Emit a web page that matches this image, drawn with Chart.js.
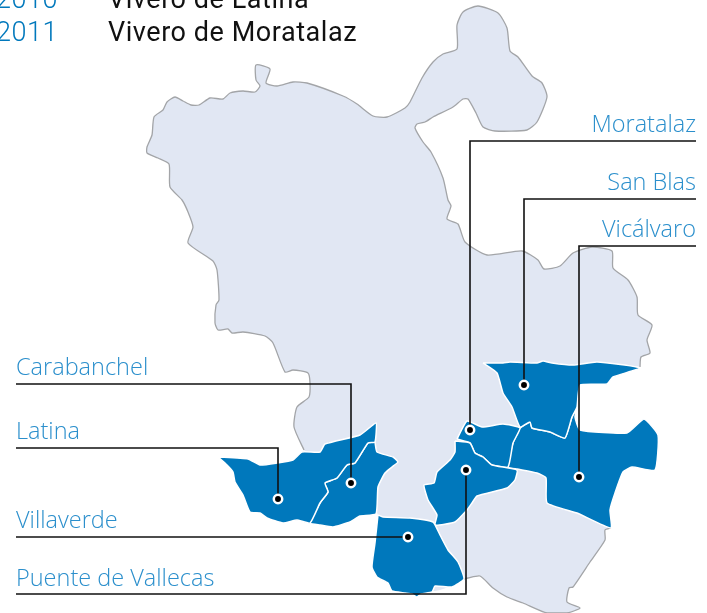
<!DOCTYPE html>
<html>
<head>
<meta charset="utf-8">
<style>
  html, body { margin: 0; padding: 0; background: #fff; overflow: hidden; }
  canvas { display: block; }
</style>
<script src="https://cdn.jsdelivr.net/npm/chart.js@4/dist/chart.umd.min.js"></script>
</head>
<body>
<canvas id="mapa" width="707" height="613"></canvas>
<script>
// Contorno del municipio (gris)
const borderNorth = [[304,450],[294,427],[297,407],[309,397],[310,383],[308,373],[293,370],[285,372],[273,343],[265,336],[243,332],[232,333],[228,329],[218,330],[215,323],[216,305],[219,300],[217,270],[213,261],[188,243],[193,227],[188,212],[182,200],[170,187],[169,164],[158,158],[147,153],[147,147],[152,135],[154,117],[163,110],[167,102],[175,97],[183,101],[191,105],[199,105],[210,98],[223,99],[230,93],[243,91],[255,92],[260,86],[256,80],[256,65],[270,69],[266,83],[277,86],[293,82],[307,83],[343,96],[357,104],[373,116],[387,117],[405,108],[410,102],[422,78],[433,62],[443,54],[457,49],[457,25],[463,12],[478,6],[498,13],[507,28],[510,51],[518,57],[532,76],[542,83],[547,97],[537,122],[527,130],[495,131],[483,127],[476,113],[468,99],[463,99],[453,107],[433,117],[425,122],[417,124],[415,128],[423,142],[431,152],[443,178],[448,200],[451,206],[447,219],[458,224],[465,242],[487,255],[522,251],[538,260],[544,269],[560,266],[573,253],[592,247],[612,251],[613,268],[628,280],[637,297],[638,315],[652,325],[647,340],[650,353],[641,357],[640,367]];
const edgeEast = [[640,368],[613,377],[607,384],[580,385],[577,407],[575,417],[580,430],[627,433],[644,419],[658,435],[655,470],[632,467],[623,472],[615,493],[610,510],[611,528]];
const borderSouth = [[611,528],[605,530],[605,540],[590,562],[573,587],[569,588],[567,602],[580,608],[567,613],[547,613],[523,603],[507,597],[493,588],[480,576],[468,578],[464,579]];
const edgeSouth = [[464,579],[440,590],[400,592],[378,560],[378,515],[370,505],[330,480]];

// Distritos en azul
const latina = [[218,457],[248,459],[260,465],[277,463],[293,460],[302,452],[320,452],[325,444],[360,435],[376,423],[375,442],[368,443],[355,463],[347,465],[337,478],[325,483],[328,492],[320,503],[310,523],[297,520],[283,523],[267,518],[260,513],[250,512],[243,495],[235,482],[233,472],[227,465]];
const carabanchel = [[375,442],[377,452],[393,457],[398,462],[392,467],[385,473],[378,487],[376,514],[360,516],[350,522],[333,527],[320,525],[310,523],[320,503],[328,492],[325,483],[337,478],[347,465],[355,463],[368,443]];
const villaverde = [[378,515],[383,517],[410,518],[433,522],[440,535],[448,550],[458,562],[464,579],[452,587],[435,586],[432,592],[421,594],[417,597],[412,594],[405,593],[392,591],[388,583],[377,577],[372,567],[375,543]];
const puenteVallecas = [[455,441],[470,443],[475,453],[483,457],[492,465],[517,470],[515,480],[507,488],[477,496],[472,503],[467,510],[455,522],[435,525],[437,515],[428,500],[424,485],[434,483],[437,472],[450,460],[455,452]];
const moratalaz = [[457,439],[467,421],[482,427],[503,424],[520,428],[513,443],[508,467],[492,465],[483,457],[475,453],[470,443]];
const sanBlas = [[483,363],[503,363],[510,362],[537,363],[543,361],[552,363],[573,365],[597,362],[640,368],[613,377],[607,384],[580,385],[577,407],[572,417],[565,438],[550,432],[532,428],[530,422],[520,427],[512,407],[503,393],[497,373]];
const vicalvaro = [[520,428],[530,422],[532,428],[550,432],[565,438],[572,417],[577,407],[575,417],[580,430],[627,433],[644,419],[658,435],[655,470],[632,467],[623,472],[615,493],[610,510],[611,528],[577,513],[547,503],[546,478],[537,473],[517,469],[508,467],[513,443]];
const districts = [latina, carabanchel, villaverde, puenteVallecas, moratalaz, sanBlas, vicalvaro];

// Lineas de los rotulos
const leaders = [
  [[16,384],[351,384],[351,483]],
  [[16,448],[278,448],[278,499]],
  [[16,537],[408,537]],
  [[16,594],[466,594],[466,470]],
  [[696,141],[470,141],[470,430]],
  [[696,199],[524,199],[524,385]],
  [[696,246],[579,246],[579,477]]
];
const dots = [[351,483],[278,499],[408,537],[466,470],[470,430],[524,385],[579,477]];

// Textos
const labelNames = ["Carabanchel","Latina","Villaverde","Puente de Vallecas","Moratalaz","San Blas","Vicálvaro"];
const labelX = [16,16,16,16,696,696,696];
const labelY = [375,439,528,586,132,190,237];
const years = ["2010","2011"];
const nurseries = ["Vivero de Latina","Vivero de Moratalaz"];
const rowY = [8,41];

const pts = a => a.map(([x, y]) => ({ x, y }));

const datasets = [];
datasets.push({
  data: pts([...borderNorth, ...edgeEast, ...borderSouth, ...edgeSouth]),
  showLine: true, fill: "shape", backgroundColor: "#E1E7F3", borderWidth: 0, pointRadius: 0, tension: 0.2, order: 5
});
[borderNorth, borderSouth].forEach(b => datasets.push({
  data: pts(b), showLine: true, borderColor: "#A3A5A8", borderWidth: 1.3, pointRadius: 0, tension: 0.2, order: 4
}));
districts.forEach(d => datasets.push({
  data: pts([...d, d[0]]),
  showLine: true, fill: "shape", backgroundColor: "#0078BC", borderColor: "#FFFFFF", borderWidth: 1.5, pointRadius: 0, tension: 0.15, order: 3
}));
leaders.forEach(l => datasets.push({
  data: pts(l), showLine: true, borderColor: "#111111", borderWidth: 1.6, pointRadius: 0, tension: 0, order: 2
}));
datasets.push({
  data: pts(dots), showLine: false, pointRadius: 4.2, pointBackgroundColor: "#000000",
  pointBorderColor: "#FFFFFF", pointBorderWidth: 2.5, order: 1
});

// Dibuja los rotulos como texto
const textPlugin = {
  id: "textos",
  afterDraw(chart) {
    const { ctx, scales: { x, y } } = chart;
    ctx.save();
    ctx.textBaseline = "alphabetic";
    ctx.font = "300 23.5px 'Open Sans'";
    ctx.fillStyle = "#2B8FCC";
    labelNames.forEach((t, i) => {
      ctx.textAlign = labelX[i] > 300 ? "right" : "left";
      ctx.fillText(t, x.getPixelForValue(labelX[i]), y.getPixelForValue(labelY[i]));
    });
    ctx.textAlign = "left";
    ctx.letterSpacing = "0.55px";
    rowY.forEach((r, i) => {
      ctx.font = "300 27px Roboto";
      ctx.fillStyle = "#0078BC";
      ctx.fillText(years[i], x.getPixelForValue(-4), y.getPixelForValue(r));
      ctx.font = "400 27px Roboto";
      ctx.fillStyle = "#111111";
      ctx.fillText(nurseries[i], x.getPixelForValue(108), y.getPixelForValue(r));
    });
    ctx.restore();
  }
};

new Chart(document.getElementById("mapa"), {
  type: "scatter",
  data: { datasets },
  plugins: [textPlugin],
  options: {
    responsive: false,
    animation: false,
    layout: { padding: 0, autoPadding: false },
    scales: {
      x: { type: "linear", min: 0, max: 707, display: false },
      y: { type: "linear", min: 0, max: 613, reverse: true, display: false }
    },
    plugins: { legend: { display: false }, tooltip: { enabled: false } }
  }
});
</script>
</body>
</html>
